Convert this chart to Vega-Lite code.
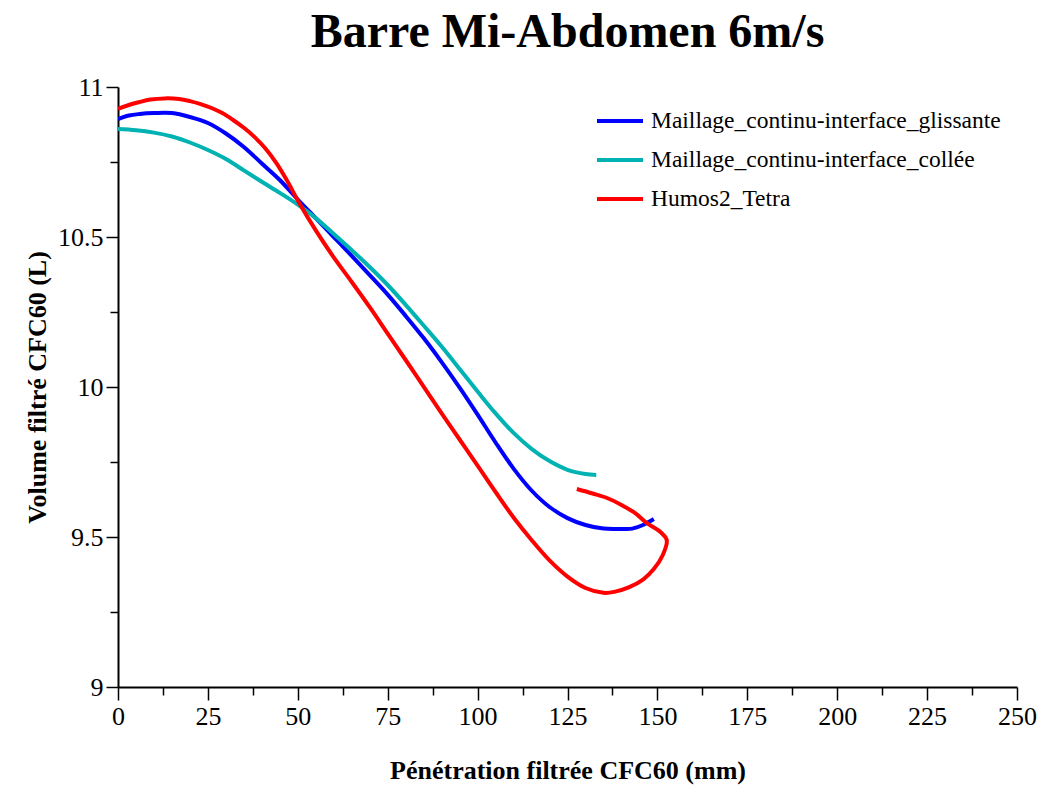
{
  "$schema": "https://vega.github.io/schema/vega-lite/v6.json",
  "width": 899,
  "height": 600,
  "autosize": {"type": "none"},
  "padding": {"left": 118, "top": 87, "right": 24, "bottom": 100},
  "background": "white",
  "title": {
    "text": "Barre Mi-Abdomen 6m/s",
    "font": "Liberation Serif",
    "fontSize": 48,
    "fontWeight": "bold",
    "color": "black",
    "anchor": "middle",
    "frame": "group",
    "offset": 17
  },
  "config": {
    "view": {"stroke": null},
    "axis": {
      "grid": false,
      "domainColor": "black",
      "domainWidth": 2,
      "tickColor": "black",
      "tickWidth": 1.5,
      "labelFont": "Liberation Serif",
      "labelFontSize": 26,
      "labelColor": "black",
      "titleFont": "Liberation Serif",
      "titleFontSize": 26,
      "titleFontWeight": "bold",
      "titleColor": "black"
    }
  },
  "data": {
    "values": [
      {"series": "Maillage_continu-interface_glissante", "i": 0, "x": 0, "v": 10.893},
      {"series": "Maillage_continu-interface_glissante", "i": 1, "x": 3, "v": 10.905},
      {"series": "Maillage_continu-interface_glissante", "i": 2, "x": 6, "v": 10.91},
      {"series": "Maillage_continu-interface_glissante", "i": 3, "x": 10, "v": 10.913},
      {"series": "Maillage_continu-interface_glissante", "i": 4, "x": 15, "v": 10.913},
      {"series": "Maillage_continu-interface_glissante", "i": 5, "x": 20, "v": 10.9},
      {"series": "Maillage_continu-interface_glissante", "i": 6, "x": 25, "v": 10.88},
      {"series": "Maillage_continu-interface_glissante", "i": 7, "x": 30, "v": 10.845},
      {"series": "Maillage_continu-interface_glissante", "i": 8, "x": 35, "v": 10.8},
      {"series": "Maillage_continu-interface_glissante", "i": 9, "x": 40, "v": 10.745},
      {"series": "Maillage_continu-interface_glissante", "i": 10, "x": 45, "v": 10.69},
      {"series": "Maillage_continu-interface_glissante", "i": 11, "x": 50, "v": 10.625},
      {"series": "Maillage_continu-interface_glissante", "i": 12, "x": 55, "v": 10.563},
      {"series": "Maillage_continu-interface_glissante", "i": 13, "x": 60, "v": 10.5},
      {"series": "Maillage_continu-interface_glissante", "i": 14, "x": 65, "v": 10.437},
      {"series": "Maillage_continu-interface_glissante", "i": 15, "x": 70, "v": 10.373},
      {"series": "Maillage_continu-interface_glissante", "i": 16, "x": 75, "v": 10.308},
      {"series": "Maillage_continu-interface_glissante", "i": 17, "x": 80, "v": 10.237},
      {"series": "Maillage_continu-interface_glissante", "i": 18, "x": 85, "v": 10.163},
      {"series": "Maillage_continu-interface_glissante", "i": 19, "x": 90, "v": 10.083},
      {"series": "Maillage_continu-interface_glissante", "i": 20, "x": 95, "v": 9.998},
      {"series": "Maillage_continu-interface_glissante", "i": 21, "x": 100, "v": 9.908},
      {"series": "Maillage_continu-interface_glissante", "i": 22, "x": 105, "v": 9.815},
      {"series": "Maillage_continu-interface_glissante", "i": 23, "x": 110, "v": 9.728},
      {"series": "Maillage_continu-interface_glissante", "i": 24, "x": 115, "v": 9.655},
      {"series": "Maillage_continu-interface_glissante", "i": 25, "x": 120, "v": 9.6},
      {"series": "Maillage_continu-interface_glissante", "i": 26, "x": 125, "v": 9.563},
      {"series": "Maillage_continu-interface_glissante", "i": 27, "x": 130, "v": 9.54},
      {"series": "Maillage_continu-interface_glissante", "i": 28, "x": 135, "v": 9.528},
      {"series": "Maillage_continu-interface_glissante", "i": 29, "x": 140, "v": 9.527},
      {"series": "Maillage_continu-interface_glissante", "i": 30, "x": 143, "v": 9.528},
      {"series": "Maillage_continu-interface_glissante", "i": 31, "x": 146, "v": 9.54},
      {"series": "Maillage_continu-interface_glissante", "i": 32, "x": 149, "v": 9.56},

      {"series": "Maillage_continu-interface_collée", "i": 0, "x": 0, "v": 10.86},
      {"series": "Maillage_continu-interface_collée", "i": 1, "x": 5, "v": 10.856},
      {"series": "Maillage_continu-interface_collée", "i": 2, "x": 10, "v": 10.848},
      {"series": "Maillage_continu-interface_collée", "i": 3, "x": 15, "v": 10.835},
      {"series": "Maillage_continu-interface_collée", "i": 4, "x": 20, "v": 10.815},
      {"series": "Maillage_continu-interface_collée", "i": 5, "x": 25, "v": 10.79},
      {"series": "Maillage_continu-interface_collée", "i": 6, "x": 30, "v": 10.76},
      {"series": "Maillage_continu-interface_collée", "i": 7, "x": 35, "v": 10.722},
      {"series": "Maillage_continu-interface_collée", "i": 8, "x": 40, "v": 10.684},
      {"series": "Maillage_continu-interface_collée", "i": 9, "x": 45, "v": 10.647},
      {"series": "Maillage_continu-interface_collée", "i": 10, "x": 50, "v": 10.608},
      {"series": "Maillage_continu-interface_collée", "i": 11, "x": 55, "v": 10.563},
      {"series": "Maillage_continu-interface_collée", "i": 12, "x": 60, "v": 10.51},
      {"series": "Maillage_continu-interface_collée", "i": 13, "x": 65, "v": 10.456},
      {"series": "Maillage_continu-interface_collée", "i": 14, "x": 70, "v": 10.4},
      {"series": "Maillage_continu-interface_collée", "i": 15, "x": 75, "v": 10.34},
      {"series": "Maillage_continu-interface_collée", "i": 16, "x": 80, "v": 10.274},
      {"series": "Maillage_continu-interface_collée", "i": 17, "x": 85, "v": 10.205},
      {"series": "Maillage_continu-interface_collée", "i": 18, "x": 90, "v": 10.135},
      {"series": "Maillage_continu-interface_collée", "i": 19, "x": 95, "v": 10.06},
      {"series": "Maillage_continu-interface_collée", "i": 20, "x": 100, "v": 9.985},
      {"series": "Maillage_continu-interface_collée", "i": 21, "x": 105, "v": 9.912},
      {"series": "Maillage_continu-interface_collée", "i": 22, "x": 110, "v": 9.847},
      {"series": "Maillage_continu-interface_collée", "i": 23, "x": 115, "v": 9.794},
      {"series": "Maillage_continu-interface_collée", "i": 24, "x": 120, "v": 9.753},
      {"series": "Maillage_continu-interface_collée", "i": 25, "x": 125, "v": 9.724},
      {"series": "Maillage_continu-interface_collée", "i": 26, "x": 130, "v": 9.71},
      {"series": "Maillage_continu-interface_collée", "i": 27, "x": 133, "v": 9.707},

      {"series": "Humos2_Tetra", "i": 0, "x": 0, "v": 10.927},
      {"series": "Humos2_Tetra", "i": 1, "x": 3, "v": 10.94},
      {"series": "Humos2_Tetra", "i": 2, "x": 6, "v": 10.95},
      {"series": "Humos2_Tetra", "i": 3, "x": 9, "v": 10.958},
      {"series": "Humos2_Tetra", "i": 4, "x": 13, "v": 10.962},
      {"series": "Humos2_Tetra", "i": 5, "x": 17, "v": 10.96},
      {"series": "Humos2_Tetra", "i": 6, "x": 20, "v": 10.953},
      {"series": "Humos2_Tetra", "i": 7, "x": 23, "v": 10.943},
      {"series": "Humos2_Tetra", "i": 8, "x": 26, "v": 10.93},
      {"series": "Humos2_Tetra", "i": 9, "x": 29, "v": 10.913},
      {"series": "Humos2_Tetra", "i": 10, "x": 32, "v": 10.89},
      {"series": "Humos2_Tetra", "i": 11, "x": 35, "v": 10.864},
      {"series": "Humos2_Tetra", "i": 12, "x": 38, "v": 10.833},
      {"series": "Humos2_Tetra", "i": 13, "x": 41, "v": 10.795},
      {"series": "Humos2_Tetra", "i": 14, "x": 44, "v": 10.747},
      {"series": "Humos2_Tetra", "i": 15, "x": 47, "v": 10.688},
      {"series": "Humos2_Tetra", "i": 16, "x": 50, "v": 10.622},
      {"series": "Humos2_Tetra", "i": 17, "x": 55, "v": 10.522},
      {"series": "Humos2_Tetra", "i": 18, "x": 60, "v": 10.432},
      {"series": "Humos2_Tetra", "i": 19, "x": 65, "v": 10.35},
      {"series": "Humos2_Tetra", "i": 20, "x": 70, "v": 10.266},
      {"series": "Humos2_Tetra", "i": 21, "x": 75, "v": 10.178},
      {"series": "Humos2_Tetra", "i": 22, "x": 80, "v": 10.09},
      {"series": "Humos2_Tetra", "i": 23, "x": 85, "v": 10.001},
      {"series": "Humos2_Tetra", "i": 24, "x": 90, "v": 9.912},
      {"series": "Humos2_Tetra", "i": 25, "x": 95, "v": 9.825},
      {"series": "Humos2_Tetra", "i": 26, "x": 100, "v": 9.738},
      {"series": "Humos2_Tetra", "i": 27, "x": 105, "v": 9.65},
      {"series": "Humos2_Tetra", "i": 28, "x": 110, "v": 9.565},
      {"series": "Humos2_Tetra", "i": 29, "x": 115, "v": 9.49},
      {"series": "Humos2_Tetra", "i": 30, "x": 120, "v": 9.422},
      {"series": "Humos2_Tetra", "i": 31, "x": 125, "v": 9.368},
      {"series": "Humos2_Tetra", "i": 32, "x": 130, "v": 9.33},
      {"series": "Humos2_Tetra", "i": 33, "x": 135, "v": 9.314},
      {"series": "Humos2_Tetra", "i": 34, "x": 138, "v": 9.317},
      {"series": "Humos2_Tetra", "i": 35, "x": 142, "v": 9.332},
      {"series": "Humos2_Tetra", "i": 36, "x": 146, "v": 9.358},
      {"series": "Humos2_Tetra", "i": 37, "x": 149, "v": 9.393},
      {"series": "Humos2_Tetra", "i": 38, "x": 151.5, "v": 9.44},
      {"series": "Humos2_Tetra", "i": 39, "x": 152.6, "v": 9.49},
      {"series": "Humos2_Tetra", "i": 40, "x": 151, "v": 9.515},
      {"series": "Humos2_Tetra", "i": 41, "x": 147, "v": 9.547},
      {"series": "Humos2_Tetra", "i": 42, "x": 144, "v": 9.578},
      {"series": "Humos2_Tetra", "i": 43, "x": 140, "v": 9.607},
      {"series": "Humos2_Tetra", "i": 44, "x": 136, "v": 9.63},
      {"series": "Humos2_Tetra", "i": 45, "x": 132, "v": 9.645},
      {"series": "Humos2_Tetra", "i": 46, "x": 127.6, "v": 9.66}
    ]
  },
  "mark": {"type": "line", "strokeWidth": 4, "clip": true, "interpolate": "catmull-rom"},
  "encoding": {
    "x": {
      "field": "x",
      "type": "quantitative",
      "title": "Pénétration filtrée CFC60 (mm)",
      "scale": {"domain": [0, 250], "nice": false, "zero": false},
      "axis": {
        "values": [0, 12.5, 25, 37.5, 50, 62.5, 75, 87.5, 100, 112.5, 125, 137.5, 150, 162.5, 175, 187.5, 200, 212.5, 225, 237.5, 250],
        "labelExpr": "datum.value % 25 === 0 ? format(datum.value, 'd') : ''",
        "tickSize": {"condition": {"test": "datum.value % 25 !== 0", "value": 8}, "value": 13},
        "labelPadding": 3,
        "titlePadding": 28,
        "labelFlush": false,
        "labelOverlap": false
      }
    },
    "y": {
      "field": "v",
      "type": "quantitative",
      "title": "Volume filtré CFC60 (L)",
      "scale": {"domain": [9, 11], "nice": false, "zero": false},
      "axis": {
        "values": [9, 9.25, 9.5, 9.75, 10, 10.25, 10.5, 10.75, 11],
        "labelExpr": "(datum.value * 2) % 1 === 0 ? format(datum.value, '~g') : ''",
        "tickSize": {"condition": {"test": "(datum.value * 2) % 1 !== 0", "value": 8}, "value": 12},
        "labelPadding": 3,
        "titlePadding": 7,
        "labelFlush": false,
        "labelOverlap": false
      }
    },
    "color": {
      "field": "series",
      "type": "nominal",
      "scale": {
        "domain": ["Maillage_continu-interface_glissante", "Maillage_continu-interface_collée", "Humos2_Tetra"],
        "range": ["#0000FF", "#00B2B2", "#FF0000"]
      },
      "legend": {
        "title": null,
        "orient": "none",
        "legendX": 477,
        "legendY": 9,
        "padding": 0,
        "symbolType": "stroke",
        "symbolSize": 2116,
        "symbolStrokeWidth": 4,
        "labelFont": "Liberation Serif",
        "labelFontSize": 23.5,
        "labelColor": "black",
        "labelOffset": 6,
        "labelLimit": 500,
        "rowPadding": 2
      }
    },
    "order": {"field": "i", "type": "quantitative"}
  }
}
